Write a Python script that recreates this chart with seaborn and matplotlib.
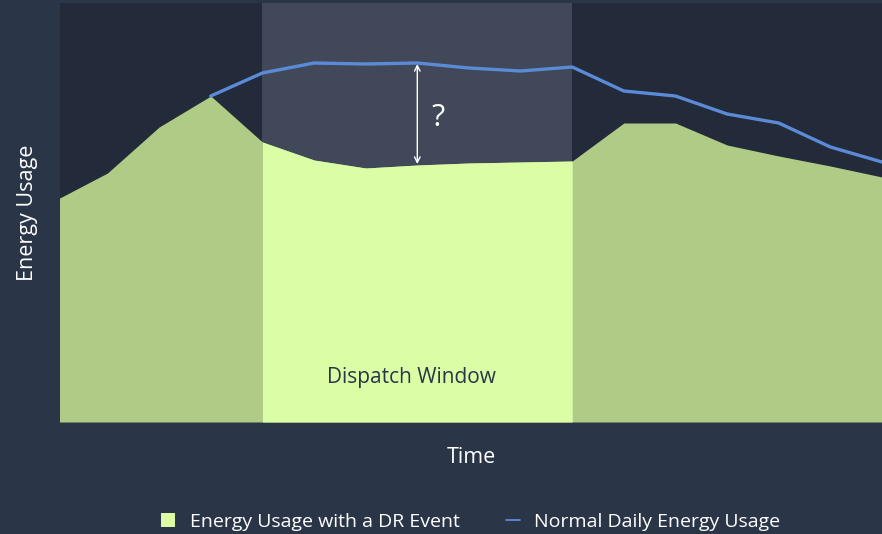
import matplotlib
matplotlib.use("Agg")
import matplotlib.pyplot as plt
import seaborn as sns
import numpy as np
import pandas as pd
from matplotlib.patches import Patch
from matplotlib.lines import Line2D

# Data (arbitrary energy units)
time_idx = list(range(17))
dr_event_usage = [222, 249, 295, 326, 280, 262, 254, 257, 259, 260, 261, 299, 299, 277, 266, 256, 245]
normal_usage = [None, None, None, 326, 349, 359, 358, 359, 354, 351, 355, 331, 326, 308, 299, 275, 260]
window_start, window_end = 4, 10
question_idx = 7

FIG_BG = "#2b3548"
AX_BG = "#232a3a"
WIN_BG = "#404859"
GREEN_DARK = "#afcb86"
GREEN_LIGHT = "#dafda6"
BLUE = "#5b8bd6"
TEXT = "#ffffff"

sns.set_theme(style="white")
plt.rcParams["font.family"] = ["Open Sans", "DejaVu Sans"]

fig = plt.figure(figsize=(8.82, 5.34), dpi=100, facecolor=FIG_BG)
ax = fig.add_axes([60 / 882, (534 - 422) / 534, 822 / 882, 419 / 534])
ax.set_facecolor(AX_BG)

df = pd.DataFrame({"t": time_idx, "dr": dr_event_usage,
                   "normal": [np.nan if v is None else v for v in normal_usage]})

ax.axvspan(window_start, window_end, color=WIN_BG, lw=0, zorder=0)
ax.fill_between(df["t"], 0, df["dr"], color=GREEN_DARK, lw=0, zorder=1)
win = df[(df["t"] >= window_start) & (df["t"] <= window_end)]
ax.fill_between(win["t"], 0, win["dr"], color=GREEN_LIGHT, lw=0, zorder=2)
sns.lineplot(data=df, x="t", y="normal", color=BLUE, lw=2.4, ax=ax, zorder=3)

ax.annotate("", xy=(question_idx, df["normal"][question_idx] - 1),
            xytext=(question_idx, df["dr"][question_idx] + 1),
            arrowprops=dict(arrowstyle="<->", color="white", lw=1.0,
                            shrinkA=0, shrinkB=0, mutation_scale=10), zorder=4)
ax.text(question_idx + 0.4, 304, "?", color="white", fontsize=22, ha="center", va="center")
ax.text((window_start + window_end) / 2 - 0.12, 44, "Dispatch Window", color=FIG_BG,
        fontsize=15, ha="center", va="center")

ax.set_xlim(0.08, 16)
ax.set_ylim(0, 419)
ax.set_xticks([])
ax.set_yticks([])
for s in ax.spines.values():
    s.set_visible(False)
ax.set_xlabel("Time", color=TEXT, fontsize=15.5, labelpad=18)
ax.set_ylabel("Energy Usage", color=TEXT, fontsize=15.5, labelpad=16)

handles = [Patch(facecolor=GREEN_LIGHT, edgecolor="none"),
           Line2D([0], [0], color=BLUE, lw=1.3)]
leg = fig.legend(handles, ["Energy Usage with a DR Event", "Normal Daily Energy Usage"],
                 loc="center", bbox_to_anchor=(471 / 882, 1 - 522 / 534), ncol=2,
                 frameon=False, fontsize=14, handlelength=0.7, handleheight=0.75,
                 columnspacing=2.4, handletextpad=0.75, labelcolor=TEXT)

fig.savefig("out.png", dpi=100, facecolor=FIG_BG)
